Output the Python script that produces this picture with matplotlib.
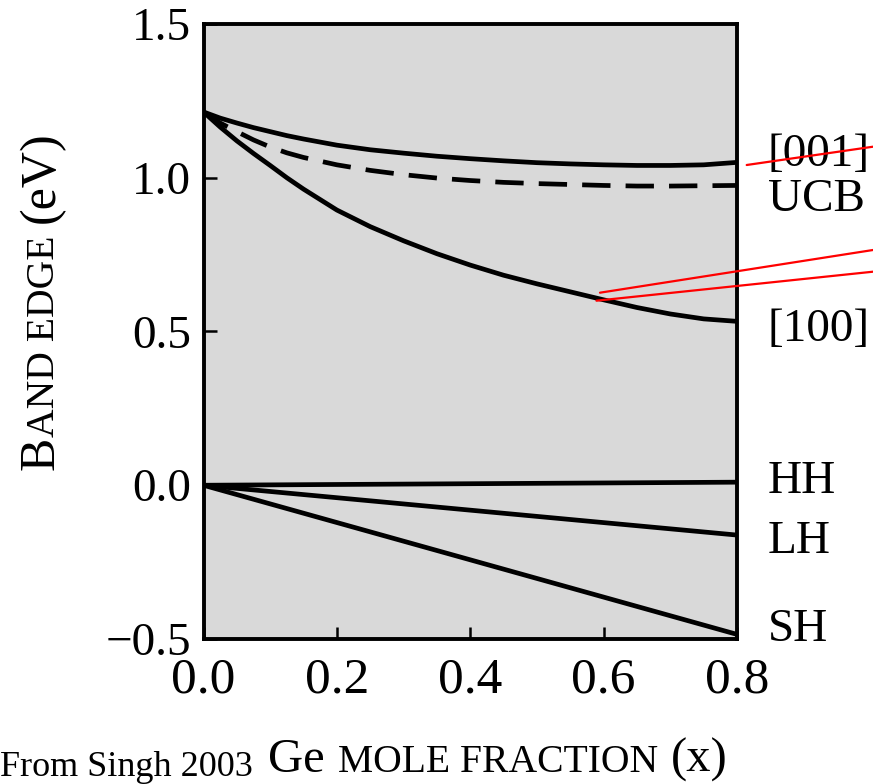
import matplotlib
matplotlib.use("Agg")
import matplotlib.pyplot as plt
from matplotlib.transforms import IdentityTransform, blended_transform_factory

# ---------------- data ----------------
x_cb = [0.0, 0.025, 0.05, 0.075, 0.1, 0.125, 0.15, 0.2, 0.25, 0.3, 0.35, 0.4,
        0.45, 0.5, 0.55, 0.6, 0.65, 0.7, 0.75, 0.8]
e_001 = [1.214, 1.194, 1.178, 1.163, 1.150, 1.137, 1.126, 1.106, 1.091, 1.080,
         1.070, 1.062, 1.055, 1.049, 1.045, 1.042, 1.040, 1.040, 1.042, 1.050]
e_ucb = [1.214, 1.178, 1.150, 1.123, 1.100, 1.081, 1.066, 1.042, 1.024, 1.010,
         0.999, 0.991, 0.985, 0.981, 0.978, 0.975, 0.973, 0.973, 0.974, 0.975]
e_100 = [1.214, 1.165, 1.120, 1.079, 1.040, 1.000, 0.963, 0.895, 0.841, 0.795,
         0.753, 0.716, 0.683, 0.655, 0.629, 0.603, 0.578, 0.557, 0.541, 0.533]
x_vb = [0.0, 0.8]
e_hh = [0.0, 0.010]
e_lh = [0.0, -0.162]
e_sh = [0.0, -0.485]

band_labels = ["[001]", "UCB", "[100]", "HH", "LH", "SH"]
band_label_y = [1.039, 0.893, 0.468, -0.026, -0.221, -0.506]

x_ticks = [0.0, 0.2, 0.4, 0.6, 0.8]
x_ticklabels = ["0.0", "0.2", "0.4", "0.6", "0.8"]
y_ticks = [-0.5, 0.0, 0.5, 1.0, 1.5]
y_ticklabels = ["\u22120.5", "0.0", "0.5", "1.0", "1.5"]

# ---------------- figure ----------------
plt.rcParams["font.family"] = ["Liberation Serif", "DejaVu Serif"]
W, H = 873, 784
fig = plt.figure(figsize=(W / 100, H / 100), dpi=100)
ax = fig.add_axes([203.5 / W, 1 - 639 / H, (737 - 203.5) / W, (639 - 24) / H])
ax.set_facecolor("#d9d9d9")

lw = 3.4
ax.plot(x_cb, e_001, color="black", lw=lw, solid_joinstyle="round")
ax.plot(x_cb, e_ucb, color="black", lw=lw, linestyle=(0, (6, 3.2)))
ax.plot(x_cb, e_100, color="black", lw=lw, solid_joinstyle="round")
ax.plot(x_vb, e_hh, color="black", lw=lw)
ax.plot(x_vb, e_lh, color="black", lw=lw)
ax.plot(x_vb, e_sh, color="black", lw=lw)

ax.set_xlim(0.0, 0.8)
ax.set_ylim(-0.5, 1.5)
ax.set_xticks(x_ticks)
ax.set_xticklabels(x_ticklabels, fontsize=37)
ax.set_yticks(y_ticks)
ax.set_yticklabels(y_ticklabels, fontsize=34)
ax.tick_params(axis="both", direction="in", length=9, width=1.8, color="black")
ax.tick_params(axis="x", pad=13)
ax.tick_params(axis="y", pad=9)
for sp in ax.spines.values():
    sp.set_linewidth(2.8)

# band labels right of the axes
tr = blended_transform_factory(ax.transAxes, ax.transData)
for lab, yv in zip(band_labels, band_label_y):
    ax.text(1.058, yv, lab, transform=tr, fontsize=34, ha="left",
            va="baseline", clip_on=False)

# ---------------- composed small-caps axis titles ----------------
renderer = fig.canvas.get_renderer()


def draw_pieces(pieces, x0, y0, vertical):
    pos = 0.0
    for txt, size, gap in pieces:
        pos += gap
        if vertical:
            t = fig.text(x0, y0 + pos, txt, fontsize=size, rotation=90,
                         rotation_mode="anchor", ha="left", va="baseline",
                         transform=IdentityTransform())
            pos += t.get_window_extent(renderer).height
        else:
            t = fig.text(x0 + pos, y0, txt, fontsize=size, ha="left",
                         va="baseline", transform=IdentityTransform())
            pos += t.get_window_extent(renderer).width


# x title (pixel coords, origin bottom-left)
draw_pieces([("Ge", 35, 0), ("MOLE FRACTION", 28.5, 13), ("(x)", 35, 13)],
            268, H - 772, vertical=False)
# y title
draw_pieces([("B", 36, 0), ("AND EDGE", 28.5, 0), ("(eV)", 36, 12)],
            54, H - 470, vertical=True)

# source note
fig.text(0, H - 776, "From Singh 2003", fontsize=26, ha="left",
         va="baseline", transform=IdentityTransform())

# red hand-drawn marker lines
red_lines = [((746.7, H - 165), (873, H - 146.7)),
             ((600.0, H - 292.7), (873, H - 250)),
             ((596.5, H - 300.7), (873, H - 271.7))]
for p0, p1 in red_lines:
    ax.annotate("", xy=p1, xytext=p0, xycoords="figure pixels",
                textcoords="figure pixels", annotation_clip=False,
                arrowprops=dict(arrowstyle="-", color="red", lw=1.6,
                                shrinkA=0, shrinkB=0))

fig.savefig("out.png", dpi=100)
